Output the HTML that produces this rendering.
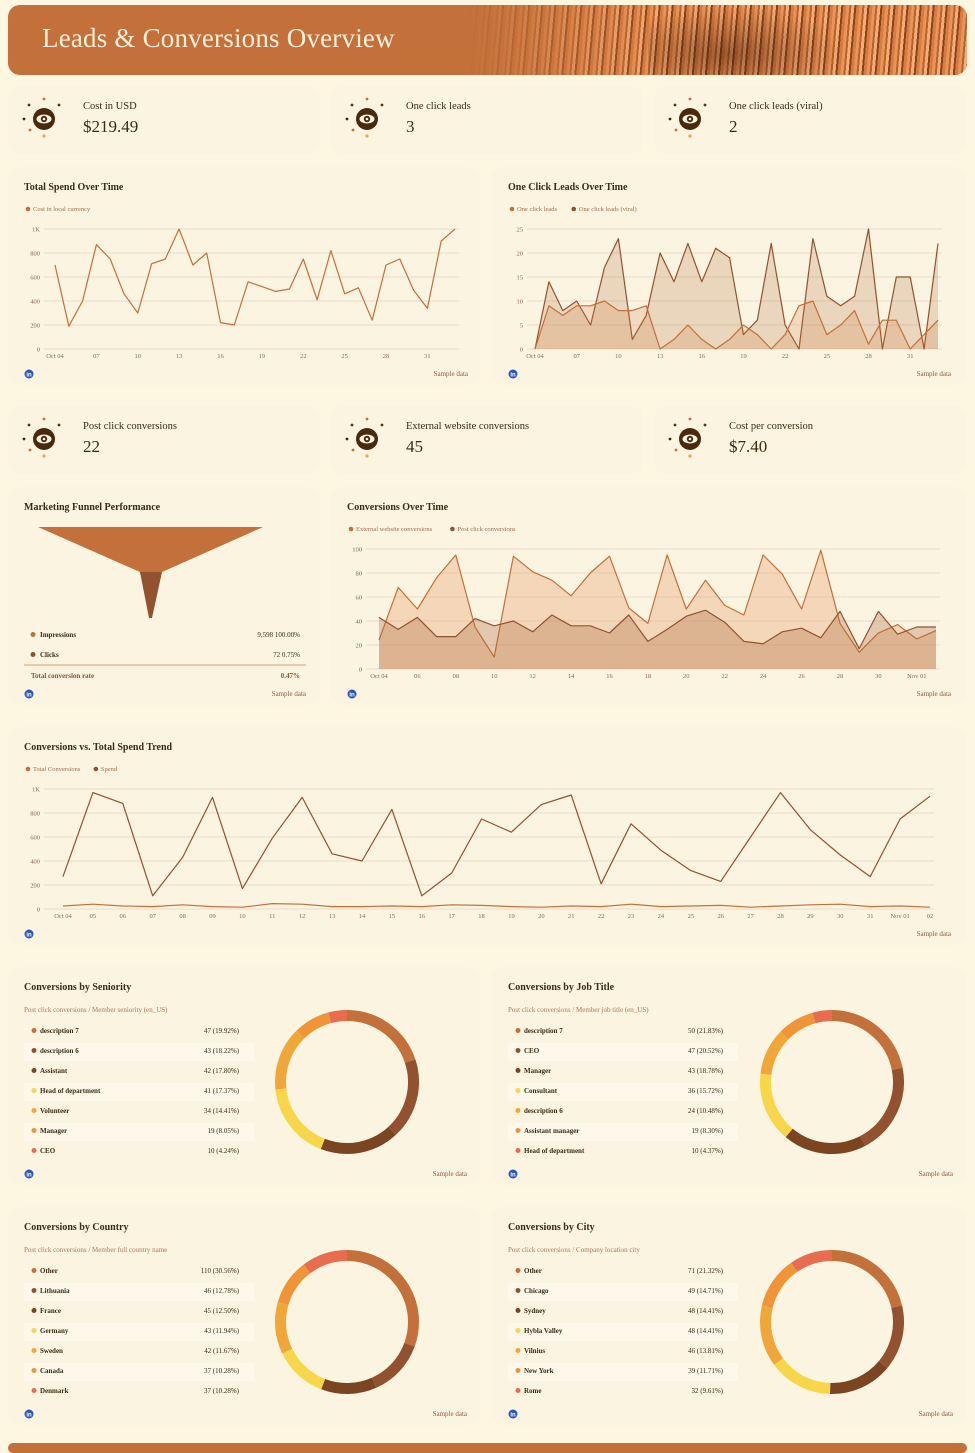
<!DOCTYPE html>
<html><head><meta charset="utf-8">
<style>
*{margin:0;padding:0;box-sizing:border-box}
body{width:975px;height:1447px;background:#fdf7e2;font-family:"Liberation Serif",serif;color:#3d2a12;position:relative;overflow:hidden}
.card{position:absolute;background:#fbf4e1;border-radius:12px}
#hdr{position:absolute;left:8px;top:5px;width:959px;height:70px;border-radius:12px;background:#c3703a;overflow:hidden}
#hdr .tex{position:absolute;left:460px;top:0;right:0;bottom:0;
background:repeating-linear-gradient(95deg,#e9955a 0 3px,#b8622c 3px 5px,#f3ad78 5px 8px,#8a4418 8px 10px,#d67c42 10px 13px);
-webkit-mask-image:linear-gradient(90deg,transparent 0,#000 40%,#000 100%)}
#hdr .dk{position:absolute;left:640px;top:0;width:200px;bottom:0;background:radial-gradient(ellipse at 40% 70%,rgba(60,20,0,.45),transparent 70%)}
#hdr h1{position:absolute;left:34px;top:18px;font-size:27px;font-weight:normal;color:#fdf0dc;letter-spacing:.2px}
.klab{position:absolute;font-size:10.5px;color:#3d2a12}
.kval{position:absolute;font-size:17px;color:#3d2a12}
.t{position:absolute;font-size:10.5px;font-weight:bold;color:#3d2a12;white-space:nowrap}
svg{position:absolute;left:0;top:0}
</style></head><body>
<div id="hdr"><div class="tex"></div><div class="dk"></div><h1>Leads &amp; Conversions Overview</h1></div>
<div id="cards"></div>
<svg id="s" width="975" height="1447" font-family="Liberation Serif, serif"></svg>
<div id="txt"></div>
<script>
const S=document.getElementById('s'),C=document.getElementById('cards'),T=document.getElementById('txt');
let svg='',html='',txt='';
function card(x,y,w,h){html+=`<div class="card" style="left:${x}px;top:${y}px;width:${w}px;height:${h}px"></div>`}
function t(x,y,s,o){o=o||{};svg+=`<text x="${x}" y="${y}" font-size="${o.fs||7}" fill="${o.c||'#8b6a50'}" ${o.a?'text-anchor="'+o.a+'"':''} ${o.b?'font-weight="bold"':''}>${s}</text>`}
function title(x,y,s){t(x,y,s,{fs:10,c:'#3d2a12',b:1})}
function li(x,y){svg+=`<circle cx="${x}" cy="${y}" r="4.5" fill="#2f55b8"/><text x="${x}" y="${y+2.5}" font-size="6" fill="#fff" text-anchor="middle" font-weight="bold" font-family="Liberation Sans">in</text>`}
function sample(x,y){t(x,y,'Sample data',{fs:7,a:'end',c:'#8b5a3c'})}
function eye(cx,cy){svg+=`<circle cx="${cx}" cy="${cy}" r="11" fill="#4a2a0c"/><ellipse cx="${cx}" cy="${cy}" rx="7.5" ry="4.5" fill="#fbf4e1"/><circle cx="${cx}" cy="${cy}" r="3.2" fill="#4a2a0c"/><circle cx="${cx}" cy="${cy}" r="1.3" fill="#fbf4e1"/>
<circle cx="${cx}" cy="${cy-20}" r="1.4" fill="#c3703a"/><circle cx="${cx}" cy="${cy+17}" r="1.6" fill="#f0a73a"/><circle cx="${cx-15}" cy="${cy-14}" r="1.4" fill="#5a3312"/><circle cx="${cx+15}" cy="${cy-14}" r="1.4" fill="#5a3312"/><circle cx="${cx-20}" cy="${cy}" r="1.4" fill="#3d2a12"/><circle cx="${cx-14}" cy="${cy+11}" r="1.4" fill="#c3703a"/>`}
function kpi(x,y,lab,val){card(x,y,312,68);eye(x+36,y+33);txt+=`<div class="klab" style="left:${x+75}px;top:${y+15}px">${lab}</div><div class="kval" style="left:${x+75}px;top:${y+31}px">${val}</div>`}
// header KPI
kpi(8,86,'Cost in USD','$219.49');kpi(331,86,'One click leads','3');kpi(654,86,'One click leads (viral)','2');
kpi(8,406,'Post click conversions','22');kpi(331,406,'External website conversions','45');kpi(654,406,'Cost per conversion','$7.40');
function legend(x,y,items){let cx=x;items.forEach(([c,l])=>{svg+=`<circle cx="${cx+2}" cy="${y-2}" r="2.3" fill="${c}"/>`;t(cx+7,y,l,{fs:6.5,c:'#a56d4a'});cx+=l.length*3.05+16})}
function chart(o){ // o: x0,x1,ytop,ybot,max,step,labels, series
 const n=o.series[0].d.length;const dx=(o.x1-o.x0)/(n-1);
 for(let v=0;v<=o.max;v+=o.step){const y=o.yb-(v/o.max)*(o.yb-o.yt);svg+=`<line x1="${o.gx}" x2="${o.x1+4}" y1="${y}" y2="${y}" stroke="#e6d6c0" stroke-width="0.8"/>`;t(o.gx-4,y+2.5,o.fmt?o.fmt(v):v,{fs:6.5,a:'end'})}
 o.series.forEach(s=>{const pts=s.d.map((v,i)=>[o.x0+i*dx,o.yb-(v/o.max)*(o.yb-o.yt)]);const p=pts.map(q=>q[0].toFixed(1)+','+q[1].toFixed(1)).join(' ');
  if(s.fill)svg+=`<polygon points="${o.x0},${o.yb} ${p} ${o.x1},${o.yb}" fill="${s.fill}"/>`;
  svg+=`<polyline points="${p}" fill="none" stroke="${s.c}" stroke-width="1.2" stroke-linejoin="round"/>`});
 o.labels.forEach(([i,l])=>t(o.x0+i*dx,o.yb+9,l,{fs:6.5,a:'middle'}));
}
// Total Spend
card(8,167,472,218);title(24,190,'Total Spend Over Time');legend(26,211,[['#c3703a','Cost in local currency']]);
let lab1=[[0,'Oct 04'],[3,'07'],[6,'10'],[9,'13'],[12,'16'],[15,'19'],[18,'22'],[21,'25'],[24,'28'],[27,'31']];
chart({x0:55,x1:455,gx:44,yt:229,yb:349,max:1000,step:200,fmt:v=>v==1000?'1K':v,labels:lab1,series:[{c:'#c3703a',d:[700,190,400,870,750,460,300,710,750,1000,700,800,220,200,560,520,480,500,750,410,820,460,510,240,700,750,490,340,900,1000]}]});
li(29,374);sample(468,376);
// One click
card(492,167,474,218);title(508,190,'One Click Leads Over Time');legend(510,211,[['#c3703a','One click leads'],['#93522f','One click leads (viral)']]);
chart({x0:535,x1:938,gx:527,yt:229,yb:349,max:25,step:5,labels:lab1,series:[
{c:'#93522f',fill:'rgba(170,110,60,0.22)',d:[0,14,8,10,5,17,23,2,7,20,14,22,14,21,19,3,6,22,5,0,23,11,9,11,25,0,15,15,0,22]},
{c:'#c3703a',fill:'rgba(205,120,60,0.2)',d:[0,9,7,9,9,10,8,8,9,0,2,5,2,0,2,5,3,0,3,9,10,3,5,8,1,6,6,0,3,6]}]});
li(513,374);sample(951,376);
// Funnel
card(8,487,312,218);title(24,510,'Marketing Funnel Performance');
svg+=`<polygon points="38,527 263,527 162,572 140,572" fill="#c3703a"/><polygon points="140,572 162,572 152,618 149,618" fill="#93522f"/>`;
[['#c3703a','Impressions','9,598  100.00%',637],['#93522f','Clicks','72  0.75%',657]].forEach(([c,l,v,y])=>{svg+=`<circle cx="33" cy="${y-2.5}" r="2.5" fill="${c}"/>`;t(40,y,l,{fs:7,b:1,c:'#3d2a12'});t(300,y,v,{fs:7,a:'end',c:'#3d2a12'})});
svg+=`<line x1="24" x2="306" y1="665" y2="665" stroke="#d9a070" stroke-width="1"/>`;
t(31,678,'Total conversion rate',{fs:7,b:1,c:'#93522f'});t(300,678,'0.47%',{fs:7,a:'end',b:1,c:'#93522f'});
li(29,694);sample(306,696);
// Conversions over time
card(331,487,635,218);title(347,510,'Conversions Over Time');legend(349,531,[['#c3703a','External website conversions'],['#93522f','Post click conversions']]);
let lab3=[[0,'Oct 04'],[2,'06'],[4,'08'],[6,'10'],[8,'12'],[10,'14'],[12,'16'],[14,'18'],[16,'20'],[18,'22'],[20,'24'],[22,'26'],[24,'28'],[26,'30'],[28,'Nov 01']];
chart({x0:379,x1:936,gx:366,yt:549,yb:669,max:100,step:20,labels:lab3,series:[
{c:'#c3703a',fill:'rgba(225,150,90,0.3)',d:[24,68,50,76,95,35,10,94,81,74,61,80,94,51,38,95,50,74,53,45,95,79,50,99,38,14,30,37,25,32]},
{c:'#93522f',fill:'rgba(170,100,60,0.3)',d:[43,33,43,27,27,42,36,40,31,45,36,36,30,45,23,33,44,49,39,23,21,31,34,26,48,17,48,29,35,35]}]});
li(352,694);sample(951,696);
// wide
card(8,727,958,218);title(24,750,'Conversions vs. Total Spend Trend');legend(26,771,[['#c3703a','Total Conversions'],['#93522f','Spend']]);
let lab4=[];const nm=['Oct 04','05','06','07','08','09','10','11','12','13','14','15','16','17','18','19','20','21','22','23','24','25','26','27','28','29','30','31','Nov 01','02'];nm.forEach((l,i)=>lab4.push([i,l]));
chart({x0:63,x1:930,gx:44,yt:789,yb:909,max:1000,step:200,fmt:v=>v==1000?'1K':v,labels:lab4,series:[
{c:'#93522f',d:[270,970,880,110,430,930,170,590,930,460,400,830,110,300,750,640,870,950,210,710,490,320,230,600,970,660,450,270,750,940]},
{c:'#c3703a',d:[25,40,25,20,35,20,15,45,40,20,20,25,20,35,30,20,15,25,20,40,20,25,30,15,25,35,40,20,25,15]}]});
li(29,934);sample(951,936);
// donuts
const cols=['#c3703a','#93522f','#7b4522','#f7d64a','#f0a73a','#ef9538','#e86c50'];
function donut(x,y,w,ttl,sub,rows,cx){card(x,y,w,218);title(x+16,y+23,ttl);t(x+16,y+45,sub,{fs:7,c:'#b07a5a'});
 rows.forEach((r,i)=>{const ry=y+66+i*20;if(i%2==1)svg+=`<rect x="${x+16}" y="${ry-10}" width="230" height="18" fill="#fdf8ea"/>`;svg+=`<circle cx="${x+26}" cy="${ry-2.5}" r="2.5" fill="${cols[i]}"/>`;t(x+32,ry,r[0],{fs:7,b:1,c:'#3d2a12'});t(x+231,ry,r[1]+'  ('+r[2]+'%)',{fs:7,a:'end',c:'#3d2a12'})});
 const tot=rows.reduce((a,r)=>a+r[1],0);let a0=-Math.PI/2;const cy=y+115,R=66.5;
 rows.forEach((r,i)=>{const a1=a0+r[1]/tot*2*Math.PI;const lg=a1-a0>Math.PI?1:0;
  svg+=`<path d="M${cx+R*Math.cos(a0)},${cy+R*Math.sin(a0)} A${R},${R} 0 ${lg} 1 ${cx+R*Math.cos(a1)},${cy+R*Math.sin(a1)}" fill="none" stroke="${cols[i]}" stroke-width="11"/>`;a0=a1});
 li(x+21,y+207);sample(x+w-13,y+209)}
donut(8,967,472,'Conversions by Seniority','Post click conversions / Member seniority (en_US)',[['description 7',47,'19.92'],['description 6',43,'18.22'],['Assistant',42,'17.80'],['Head of department',41,'17.37'],['Volunteer',34,'14.41'],['Manager',19,'8.05'],['CEO',10,'4.24']],347);
donut(492,967,474,'Conversions by Job Title','Post click conversions / Member job title (en_US)',[['description 7',50,'21.83'],['CEO',47,'20.52'],['Manager',43,'18.78'],['Consultant',36,'15.72'],['description 6',24,'10.48'],['Assistant manager',19,'8.30'],['Head of department',10,'4.37']],832);
donut(8,1207,472,'Conversions by Country','Post click conversions / Member full country name',[['Other',110,'30.56'],['Lithuania',46,'12.78'],['France',45,'12.50'],['Germany',43,'11.94'],['Sweden',42,'11.67'],['Canada',37,'10.28'],['Denmark',37,'10.28']],347);
donut(492,1207,474,'Conversions by City','Post click conversions / Company location city',[['Other',71,'21.32'],['Chicago',49,'14.71'],['Sydney',48,'14.41'],['Hybla Valley',48,'14.41'],['Vilnius',46,'13.81'],['New York',39,'11.71'],['Rome',32,'9.61']],832);
html+=`<div style="position:absolute;left:8px;top:1443px;width:959px;height:10px;background:#c3703a;border-radius:6px"></div>`;
C.innerHTML=html;S.innerHTML=svg;T.innerHTML=txt;
</script>
</body></html>
